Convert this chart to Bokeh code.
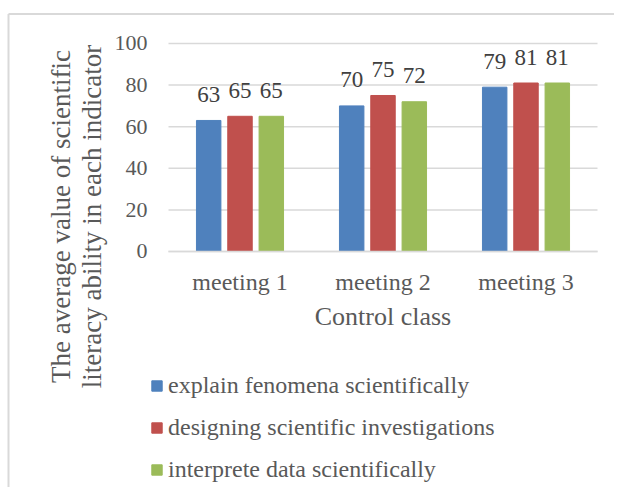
import math
from bokeh.plotting import figure
from bokeh.models import (ColumnDataSource, Range1d, Legend, LegendItem,
                          FixedTicker, Label)
from bokeh.transform import dodge
from bokeh.core.properties import value
from bokeh.embed import file_html
from bokeh.resources import INLINE

meetings = ["meeting 1", "meeting 2", "meeting 3"]
explain = [63, 70, 79]
designing = [65, 75, 81]
interprete = [65, 72, 81]
series_names = ["explain fenomena scientifically",
                "designing scientific investigations",
                "interprete data scientifically"]
colors = ["#4F81BD", "#C0504D", "#9BBB59"]
y_ticks = [0, 20, 40, 60, 80, 100]
x_title = "Control class"
y_title_lines = ["The average value of scientific", "literacy ability in each indicator"]

FONT = "Liberation Serif"
GRID = "#d9d9d9"
TXT = "#595959"

xpos = [i + 0.5 for i in range(len(meetings))]
n_cat = len(meetings)

source = ColumnDataSource(dict(
    xpos=xpos,
    explain=explain, designing=designing, interprete=interprete,
    explain_t=[str(v) for v in explain],
    designing_t=[str(v) for v in designing],
    interprete_t=[str(v) for v in interprete],
))

# the plot frame covers the whole canvas; axes are pinned inside it
p = figure(x_range=Range1d(-1.1748, 3.1189), y_range=Range1d(-113.46, 120.67),
           width=614, height=487, min_border=0,
           output_backend="svg", toolbar_location=None)
p.outline_line_color = None
p.xgrid.visible = False
p.ygrid.visible = False

# chart-area border: only its top and left edges fall inside the reference picture
bx, by = -1.1189, 114.2
p.segment(x0=[bx, bx], y0=[by, by], x1=[bx, 10], y1=[-1000, by],
          line_color=GRID, line_width=2)

# horizontal gridlines over the category span only
p.segment(x0=0, x1=n_cat, y0=y_ticks, y1=y_ticks, line_color=GRID, line_width=1.5)

p.yaxis.fixed_location = 0
p.yaxis.ticker = FixedTicker(ticks=y_ticks)
p.yaxis.axis_line_color = None
p.yaxis.major_tick_line_color = None
p.yaxis.minor_tick_line_color = None
p.yaxis.major_tick_out = 0
p.yaxis.minor_tick_out = 0
p.yaxis.major_label_standoff = 21
p.yaxis.major_label_text_font = FONT
p.yaxis.major_label_text_font_size = "22px"
p.yaxis.major_label_text_color = TXT

p.xaxis.fixed_location = 0
p.xaxis.bounds = (0, n_cat)
p.xaxis.ticker = FixedTicker(ticks=xpos)
p.xaxis.major_label_overrides = {x: m for x, m in zip(xpos, meetings)}
p.xaxis.axis_line_color = GRID
p.xaxis.axis_line_width = 1.5
p.xaxis.major_tick_line_color = None
p.xaxis.minor_tick_line_color = None
p.xaxis.major_label_standoff = 12
p.xaxis.major_label_text_font = FONT
p.xaxis.major_label_text_font_size = "24px"
p.xaxis.major_label_text_color = TXT

offsets = [-0.219, 0.0, 0.219]
fields = ["explain", "designing", "interprete"]
items = []
for f, off, c, name in zip(fields, offsets, colors, series_names):
    r = p.vbar(x=dodge("xpos", off), top=f, bottom=0, width=0.171,
               source=source, fill_color=c, line_color=c, line_width=1)
    items.append(LegendItem(label=name, renderers=[r]))
    p.text(x=dodge("xpos", off), y=f, text=f + "_t", source=source,
           text_align="center", text_baseline="middle", y_offset=-26,
           text_font=value(FONT), text_font_size="23px", text_color="#404040")

# x-axis title
p.add_layout(Label(x=n_cat / 2, y=-31.2, text=x_title, text_align="center",
                   text_baseline="middle", text_font=FONT, text_font_size="26px",
                   text_color=TXT))

# rotated two-line y-axis title
for line, xp in zip(y_title_lines, [-0.755, -0.538]):
    p.add_layout(Label(x=xp, y=16.83, text=line, angle=math.pi / 2,
                       text_align="center", text_baseline="middle",
                       text_font=FONT, text_font_size="27px", text_color=TXT))

legend = Legend(items=items, location=(150, 4), orientation="vertical",
                glyph_width=13, glyph_height=13, label_standoff=5,
                label_height=27, spacing=15, padding=0, margin=0,
                border_line_color=None, background_fill_alpha=0,
                label_text_font=FONT, label_text_font_size="24px",
                label_text_color=TXT)
p.add_layout(legend, "center")

open("out.html", "w").write(file_html(p, INLINE))
